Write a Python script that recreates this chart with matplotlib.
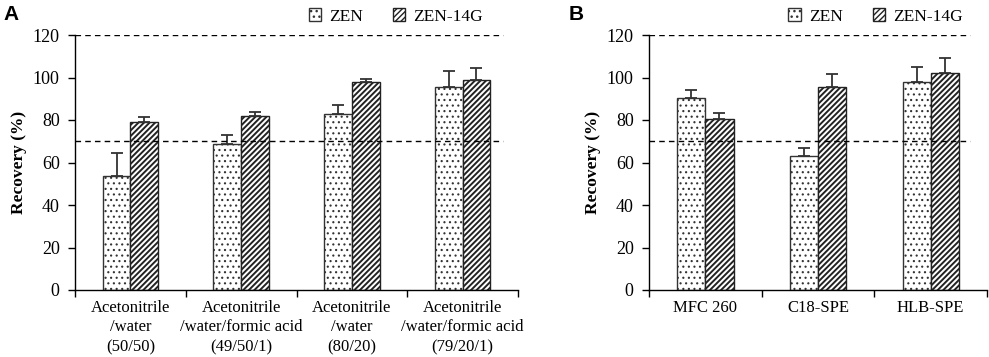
import numpy as np
import matplotlib
matplotlib.use('Agg')
import matplotlib.pyplot as plt
from matplotlib.patches import Patch

plt.rcParams['font.family'] = ['Liberation Serif', 'DejaVu Serif']
plt.rcParams['hatch.linewidth'] = 1.0

# Panel A data
cats_a = ['Acetonitrile\n/water\n(50/50)',
          'Acetonitrile\n/water/formic acid\n(49/50/1)',
          'Acetonitrile\n/water\n(80/20)',
          'Acetonitrile\n/water/formic acid\n(79/20/1)']
zen_a = [53.5, 68.5, 83, 95.5]
zen_a_err = [11, 4.5, 4, 7.5]
g14_a = [79, 82, 98, 99]
g14_a_err = [2.5, 2, 1.5, 5.5]

# Panel B data
cats_b = ['MFC 260', 'C18-SPE', 'HLB-SPE']
zen_b = [90.5, 63, 98]
zen_b_err = [3.5, 4, 7]
g14_b = [80.5, 95.5, 102]
g14_b_err = [3, 6, 7]

y_ticks = [0, 20, 40, 60, 80, 100, 120]


def set_hlw(artists, lw):
    # per-artist hatch width (matplotlib >= 3.10)
    for a in artists:
        try:
            a.set_hatch_linewidth(lw)
        except AttributeError:
            pass


def draw_panel(ax, cats, zen, zen_err, g14, g14_err, dash_end, leg_x):
    x = np.arange(len(cats))
    w = 0.25
    ek = dict(ecolor='#333333', elinewidth=1.3, capsize=4, capthick=1.3)
    b1 = ax.bar(x - w / 2, zen, w, color='white', edgecolor='#333333', linewidth=1.0,
                hatch='...', yerr=[np.zeros(len(zen)), zen_err], error_kw=ek, zorder=2)
    b2 = ax.bar(x + w / 2, g14, w, color='white', edgecolor='#222222', linewidth=1.0,
                hatch='//////', yerr=[np.zeros(len(g14)), g14_err], error_kw=ek, zorder=2)
    set_hlw(b1, 0.8)
    set_hlw(b2, 1.4)

    ax.axhline(120, xmin=0, xmax=dash_end, color='black', ls=(0, (4, 3)), lw=1.0, zorder=1)
    ax.axhline(70, xmin=0, xmax=dash_end, color='black', ls=(0, (4, 3)), lw=1.0, zorder=3)

    ax.set_xlim(-0.5, len(cats) - 0.5)
    ax.set_ylim(0, 120)
    ax.set_yticks(y_ticks)
    ax.set_xticks(x)
    ax.set_xticklabels(cats, fontsize=12, linespacing=1.3)
    ax.set_xticks(np.arange(len(cats) + 1) - 0.5, minor=True)
    ax.tick_params(axis='x', which='major', length=0, pad=7)
    ax.tick_params(axis='x', which='minor', length=5, width=1.0, direction='out')
    ax.tick_params(axis='y', length=5, width=1.0, labelsize=13, pad=6)
    ax.spines['top'].set_visible(False)
    ax.spines['right'].set_visible(False)
    ax.spines['left'].set_linewidth(1.0)
    ax.spines['bottom'].set_linewidth(1.0)
    ax.set_ylabel('Recovery (%)', fontsize=12.5, fontweight='bold', labelpad=4)

    h1 = Patch(facecolor='white', edgecolor='#333333', hatch='...')
    h2 = Patch(facecolor='white', edgecolor='#222222', hatch='//////')
    leg = ax.legend([h1, h2], ['ZEN', 'ZEN-14G'], loc='lower right',
                    bbox_to_anchor=(leg_x, 1.0), ncol=2, frameon=False, fontsize=12.5,
                    handlelength=0.7, handleheight=0.7, handletextpad=0.5,
                    columnspacing=1.7, borderaxespad=0.2)
    set_hlw(leg.get_patches(), 1.0)


fig = plt.figure(figsize=(9.89, 3.57), dpi=100)
ax_a = fig.add_axes([75 / 989, 67 / 357, 443 / 989, 255 / 357])
ax_b = fig.add_axes([649 / 989, 67 / 357, 338 / 989, 255 / 357])

draw_panel(ax_a, cats_a, zen_a, zen_a_err, g14_a, g14_a_err, 0.966, 0.945)
draw_panel(ax_b, cats_b, zen_b, zen_b_err, g14_b, g14_b_err, 0.95, 0.96)

fig.text(3 / 989, 1 - 20 / 357, 'A', fontsize=15, fontweight='bold', family='Liberation Sans')
fig.text(569 / 989, 1 - 20 / 357, 'B', fontsize=15, fontweight='bold', family='Liberation Sans')

fig.savefig('out.png', dpi=100, facecolor='white')
